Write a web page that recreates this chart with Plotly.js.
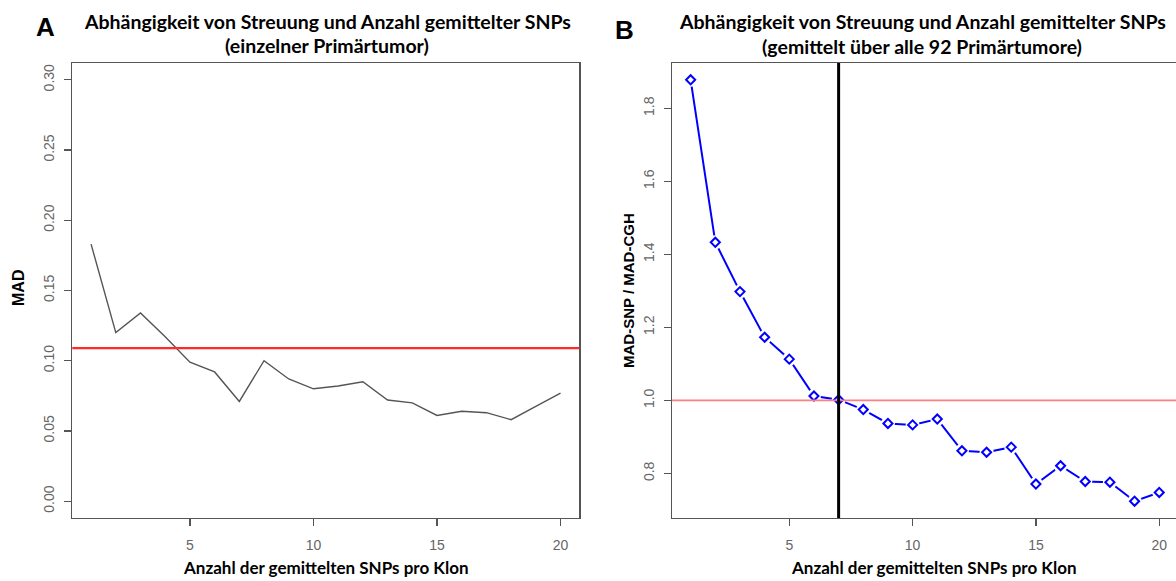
<!DOCTYPE html>
<html>
<head>
<meta charset="utf-8">
<script src="https://cdn.plot.ly/plotly-3.0.1.min.js"></script>
<style>
  html, body { margin: 0; padding: 0; background: #ffffff; }
  #chart { width: 1176px; height: 581px; }
</style>
</head>
<body>
<div id="chart"></div>
<script>
// Number of SNPs averaged per clone
const nSNPs = [1, 2, 3, 4, 5, 6, 7, 8, 9, 10, 11, 12, 13, 14, 15, 16, 17, 18, 19, 20];

// Panel A: MAD of a single primary tumour
const madSingle = [0.183, 0.120, 0.134, 0.117, 0.099, 0.092, 0.071, 0.100, 0.087, 0.080,
                   0.082, 0.085, 0.072, 0.070, 0.061, 0.064, 0.063, 0.058, 0.0675, 0.077];
const madCghLevel = 0.109;

// Panel B: MAD-SNP / MAD-CGH averaged over all 92 primary tumours
const madRatio = [1.878, 1.433, 1.298, 1.173, 1.113, 1.012, 1.002, 0.975, 0.937, 0.933,
                  0.949, 0.862, 0.858, 0.872, 0.771, 0.821, 0.778, 0.776, 0.724, 0.748];
const ratioRef = 1.0;
const chosenN = 7;

// Tick labels
const xTicks = [5, 10, 15, 20];
const yTicksA = [0.00, 0.05, 0.10, 0.15, 0.20, 0.25, 0.30];
const yTicksB = [0.8, 1.0, 1.2, 1.4, 1.6, 1.8];

const W = 1176, H = 581;
const px = v => v / W;
const py = v => (H - v) / H;

const tickFont = { family: 'Liberation Sans, Arial, sans-serif', size: 14, color: '#666666' };
const axisBase = {
  showgrid: false, zeroline: false,
  showline: true, linecolor: '#555555', linewidth: 1.3,
  ticks: 'outside', ticklen: 7, tickwidth: 1.2, tickcolor: '#555555',
  tickfont: tickFont, fixedrange: true
};

const traces = [
  {
    x: nSNPs, y: madSingle, xaxis: 'x', yaxis: 'y',
    type: 'scatter', mode: 'lines',
    line: { color: '#555555', width: 1.4 },
    hoverinfo: 'skip'
  },
  {
    x: nSNPs, y: madRatio, xaxis: 'x2', yaxis: 'y2',
    type: 'scatter', mode: 'lines',
    line: { color: '#0000ff', width: 2 },
    hoverinfo: 'skip'
  },
  // white halos leave a small gap in the line around each point
  {
    x: nSNPs, y: madRatio, xaxis: 'x2', yaxis: 'y2',
    type: 'scatter', mode: 'markers',
    marker: { symbol: 'circle', size: 14, color: '#ffffff', line: { width: 0 } },
    hoverinfo: 'skip'
  },
  {
    x: nSNPs, y: madRatio, xaxis: 'x2', yaxis: 'y2',
    type: 'scatter', mode: 'markers',
    marker: { symbol: 'diamond-open', size: 7, color: '#0000ff', line: { color: '#0000ff', width: 2 } },
    hoverinfo: 'skip'
  }
];

const domainY = [py(518), py(63)];

const layout = {
  width: W, height: H,
  margin: { l: 0, r: 0, t: 0, b: 0 },
  paper_bgcolor: '#ffffff', plot_bgcolor: '#ffffff',
  showlegend: false,
  xaxis: Object.assign({}, axisBase, {
    domain: [px(72.3), px(579.3)], range: [0.24, 20.76],
    tickvals: xTicks, mirror: true, anchor: 'y', ticklabelstandoff: 7
  }),
  yaxis: Object.assign({}, axisBase, {
    domain: domainY, range: [-0.012, 0.312],
    tickvals: yTicksA, tickformat: '.2f', tickangle: -90, mirror: true, anchor: 'x',
    ticklabelstandoff: 4
  }),
  xaxis2: Object.assign({}, axisBase, {
    domain: [px(671.9), 1], range: [0.24, 20.68],
    tickvals: xTicks, mirror: true, anchor: 'y2', ticklabelstandoff: 7
  }),
  yaxis2: Object.assign({}, axisBase, {
    domain: domainY, range: [0.678, 1.924],
    tickvals: yTicksB, tickformat: '.1f', tickangle: -90, mirror: false, anchor: 'x2',
    ticklabelstandoff: 4
  }),
  shapes: [
    { type: 'line', xref: 'x domain', x0: 0, x1: 1, yref: 'y', y0: madCghLevel, y1: madCghLevel,
      line: { color: '#ff2a2a', width: 2.2 } },
    { type: 'line', xref: 'x2 domain', x0: 0, x1: 1, yref: 'y2', y0: ratioRef, y1: ratioRef,
      line: { color: '#ff8080', width: 1.6 } },
    { type: 'line', xref: 'x2', x0: chosenN, x1: chosenN, yref: 'y2 domain', y0: 0, y1: 1,
      line: { color: '#000000', width: 3 } }
  ],
  annotations: [
    { text: '<b>A</b>', x: px(45), y: py(27), xref: 'paper', yref: 'paper', showarrow: false,
      xanchor: 'center', yanchor: 'middle', font: { family: 'Liberation Sans, Arial, sans-serif', size: 26, color: '#000' } },
    { text: '<b>B</b>', x: px(624), y: py(30), xref: 'paper', yref: 'paper', showarrow: false,
      xanchor: 'center', yanchor: 'middle', font: { family: 'Liberation Sans, Arial, sans-serif', size: 26, color: '#000' } },
    { text: '<b>Abhängigkeit von Streuung und Anzahl gemittelter SNPs</b>', x: px(327), y: py(22),
      xref: 'paper', yref: 'paper', showarrow: false, xanchor: 'center', yanchor: 'middle',
      font: { family: 'Lato, sans-serif', size: 19.5, color: '#000' } },
    { text: '<b>(einzelner Primärtumor)</b>', x: px(327), y: py(45),
      xref: 'paper', yref: 'paper', showarrow: false, xanchor: 'center', yanchor: 'middle',
      font: { family: 'Lato, sans-serif', size: 19.5, color: '#000' } },
    { text: '<b>Abhängigkeit von Streuung und Anzahl gemittelter SNPs</b>', x: px(922), y: py(22),
      xref: 'paper', yref: 'paper', showarrow: false, xanchor: 'center', yanchor: 'middle',
      font: { family: 'Lato, sans-serif', size: 19.5, color: '#000' } },
    { text: '<b>(gemittelt über alle 92 Primärtumore)</b>', x: px(922), y: py(46),
      xref: 'paper', yref: 'paper', showarrow: false, xanchor: 'center', yanchor: 'middle',
      font: { family: 'Lato, sans-serif', size: 19.5, color: '#000' } },
    { text: '<b>Anzahl der gemittelten SNPs pro Klon</b>', x: px(326), y: py(567),
      xref: 'paper', yref: 'paper', showarrow: false, xanchor: 'center', yanchor: 'middle',
      font: { family: 'Lato, sans-serif', size: 17, color: '#000' } },
    { text: '<b>Anzahl der gemittelten SNPs pro Klon</b>', x: px(934), y: py(567),
      xref: 'paper', yref: 'paper', showarrow: false, xanchor: 'center', yanchor: 'middle',
      font: { family: 'Lato, sans-serif', size: 17, color: '#000' } },
    { text: '<b>MAD</b>', x: px(18), y: py(288), textangle: -90,
      xref: 'paper', yref: 'paper', showarrow: false, xanchor: 'center', yanchor: 'middle',
      font: { family: 'Liberation Sans, Arial, sans-serif', size: 16, color: '#000' } },
    { text: '<b>MAD-SNP / MAD-CGH</b>', x: px(628), y: py(291), textangle: -90,
      xref: 'paper', yref: 'paper', showarrow: false, xanchor: 'center', yanchor: 'middle',
      font: { family: 'Liberation Sans, Arial, sans-serif', size: 15, color: '#000' } }
  ]
};

Plotly.newPlot('chart', traces, layout, { displayModeBar: false, staticPlot: true });
</script>
</body>
</html>
